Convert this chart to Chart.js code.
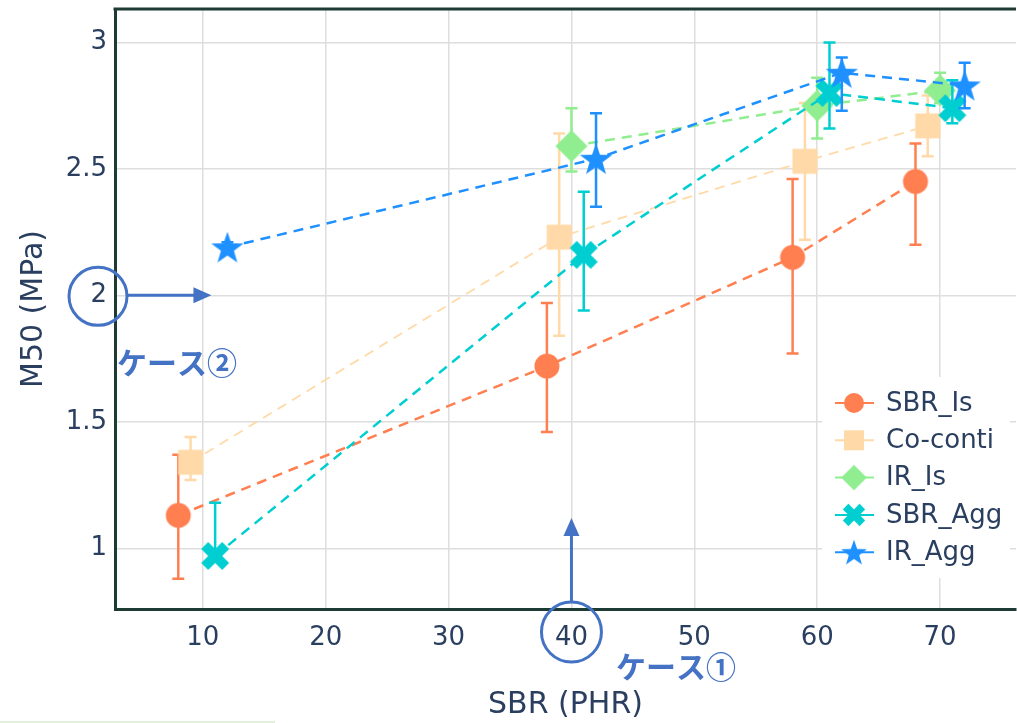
<!DOCTYPE html>
<html>
<head>
<meta charset="utf-8">
<script src="https://cdn.jsdelivr.net/npm/chart.js@4.4.1/dist/chart.umd.min.js"></script>
<style>
  html, body { margin: 0; padding: 0; background: #fff; overflow: hidden; }
  canvas { display: block; }
</style>
</head>
<body>
<canvas id="myChart" width="1017" height="723"></canvas>
<script>
// data
const xTicks = [10, 20, 30, 40, 50, 60, 70];
const yTicks = [1, 1.5, 2, 2.5, 3];

const sbrIsX = [8, 38, 58, 68];
const sbrIsY = [1.13, 1.72, 2.15, 2.45];
const sbrIsHi = [1.37, 1.97, 2.46, 2.60];
const sbrIsLo = [0.88, 1.46, 1.77, 2.20];

const coContiX = [9, 39, 59, 69];
const coContiY = [1.34, 2.23, 2.53, 2.67];
const coContiHi = [1.44, 2.64, 2.76, 2.79];
const coContiLo = [1.27, 1.84, 2.22, 2.55];

const irIsX = [40, 60, 70];
const irIsY = [2.59, 2.75, 2.81];
const irIsHi = [2.74, 2.86, 2.88];
const irIsLo = [2.49, 2.62, 2.76];

const sbrAggX = [11, 41, 61, 71];
const sbrAggY = [0.97, 2.16, 2.80, 2.74];
const sbrAggHi = [1.18, 2.41, 3.0, 2.85];
const sbrAggLo = [0.95, 1.94, 2.66, 2.68];

const irAggX = [12, 42, 62, 72];
const irAggY = [2.19, 2.54, 2.88, 2.83];
const irAggHi = [2.21, 2.72, 2.94, 2.92];
const irAggLo = [2.17, 2.35, 2.73, 2.74];

const textColor = "#2a3f5f";
const frameColor = "#1d3b33";
const noteColor = "#4472C4";

// marker images (plotly-like filled symbols)
function makeMarker(shape, color, scale) {
  const s = scale || 1;
  const c = document.createElement("canvas");
  const size = Math.ceil(40 * s);
  c.width = size; c.height = size;
  const g = c.getContext("2d");
  g.translate(size / 2, size / 2);
  g.scale(s, s);
  g.fillStyle = color;
  g.beginPath();
  if (shape === "circle") {
    g.arc(0, 0, 12.5, 0, Math.PI * 2);
  } else if (shape === "square") {
    g.rect(-12.5, -12.5, 25, 25);
  } else if (shape === "diamond") {
    g.moveTo(0, -16); g.lineTo(16, 0); g.lineTo(0, 16); g.lineTo(-16, 0);
  } else if (shape === "x") {
    const r = 7;
    const pts = [[0, r], [r, 2 * r], [2 * r, r], [r, 0], [2 * r, -r], [r, -2 * r],
      [0, -r], [-r, -2 * r], [-2 * r, -r], [-r, 0], [-2 * r, r], [-r, 2 * r]];
    pts.forEach((p, i) => (i ? g.lineTo(p[0], p[1]) : g.moveTo(p[0], p[1])));
  } else if (shape === "star") {
    for (let i = 0; i < 10; i++) {
      const rad = i % 2 ? 6.8 : 17;
      const a = -Math.PI / 2 + (i * Math.PI) / 5;
      const px = Math.cos(a) * rad, py = Math.sin(a) * rad + 1.5;
      i ? g.lineTo(px, py) : g.moveTo(px, py);
    }
  }
  g.closePath();
  g.fill();
  return c;
}

function series(label, xs, ys, hi, lo, color, shape, width) {
  return {
    label: label,
    data: xs.map((x, i) => ({ x: x, y: ys[i] })),
    errHi: hi,
    errLo: lo,
    shape: shape,
    borderColor: color,
    backgroundColor: color,
    borderWidth: width,
    borderDash: [10, 7],
    showLine: true,
    pointStyle: makeMarker(shape, color),
    // small radius so the layout does not reserve room for the markers
    pointRadius: 1,
    pointHoverRadius: 1,
    pointBorderWidth: 0,
  };
}

const datasets = [
  series("SBR_Is", sbrIsX, sbrIsY, sbrIsHi, sbrIsLo, "#FF7F50", "circle", 2.5),
  series("Co-conti", coContiX, coContiY, coContiHi, coContiLo, "#FFDAA8", "square", 1.8),
  series("IR_Is", irIsX, irIsY, irIsHi, irIsLo, "#90EE90", "diamond", 2.5),
  series("SBR_Agg", sbrAggX, sbrAggY, sbrAggHi, sbrAggLo, "#00CED1", "x", 2.5),
  series("IR_Agg", irAggX, irAggY, irAggHi, irAggLo, "#1E90FF", "star", 2.5),
];
// later traces on top, like plotly
datasets.forEach((d, i) => (d.order = datasets.length - 1 - i));

const errorBars = {
  id: "errorBars",
  beforeDatasetDraw(chart, args) {
    const ds = chart.data.datasets[args.index];
    const xs = chart.scales.x, ys = chart.scales.y;
    const ctx = chart.ctx;
    ctx.save();
    ctx.strokeStyle = ds.borderColor;
    ctx.lineWidth = 2.5;
    ds.data.forEach((p, i) => {
      const px = xs.getPixelForValue(p.x);
      const top = ys.getPixelForValue(ds.errHi[i]);
      const bot = ys.getPixelForValue(ds.errLo[i]);
      ctx.beginPath();
      ctx.moveTo(px, top); ctx.lineTo(px, bot);
      ctx.moveTo(px - 6, top); ctx.lineTo(px + 6, top);
      ctx.moveTo(px - 6, bot); ctx.lineTo(px + 6, bot);
      ctx.stroke();
    });
    ctx.restore();
  },
};

function arrow(ctx, x1, y1, x2, y2) {
  const a = Math.atan2(y2 - y1, x2 - x1);
  ctx.beginPath();
  ctx.moveTo(x1, y1);
  ctx.lineTo(x2 - Math.cos(a) * 14, y2 - Math.sin(a) * 14);
  ctx.stroke();
  ctx.beginPath();
  ctx.moveTo(x2, y2);
  ctx.lineTo(x2 - Math.cos(a) * 18 - Math.sin(a) * 8, y2 - Math.sin(a) * 18 + Math.cos(a) * 8);
  ctx.lineTo(x2 - Math.cos(a) * 18 + Math.sin(a) * 8, y2 - Math.sin(a) * 18 - Math.cos(a) * 8);
  ctx.closePath();
  ctx.fill();
}

const extras = {
  id: "extras",
  afterDraw(chart) {
    const ctx = chart.ctx;
    const area = chart.chartArea;
    const xs = chart.scales.x, ys = chart.scales.y;
    ctx.save();

    // top frame line
    ctx.strokeStyle = frameColor;
    ctx.lineWidth = 3;
    ctx.beginPath();
    ctx.moveTo(area.left - 1.5, area.top);
    ctx.lineTo(area.right, area.top);
    ctx.stroke();

    // legend
    const items = chart.data.datasets;
    ctx.fillStyle = "#fff";
    ctx.fillRect(822, 377, 188, 201);
    items.forEach((d, i) => {
      const y = 403 + i * 37.3;
      ctx.strokeStyle = d.borderColor;
      ctx.lineWidth = 2;
      ctx.beginPath();
      ctx.moveTo(835, y); ctx.lineTo(874, y);
      ctx.stroke();
      const img = makeMarker(d.shape, d.borderColor, 0.8);
      ctx.drawImage(img, 854 - img.width / 2, y - img.height / 2);
      ctx.fillStyle = textColor;
      ctx.font = "26px 'DejaVu Sans'";
      ctx.textAlign = "left";
      ctx.textBaseline = "middle";
      ctx.fillText(d.label, 886, y + 1);
    });

    // annotations
    ctx.strokeStyle = noteColor;
    ctx.fillStyle = noteColor;
    ctx.lineWidth = 3;
    const y2 = ys.getPixelForValue(2);
    ctx.beginPath();
    ctx.arc(98, y2 + 1, 29, 0, Math.PI * 2);
    ctx.stroke();
    arrow(ctx, 127, y2, xs.getPixelForValue(10.7), y2);

    const x40 = xs.getPixelForValue(40);
    ctx.beginPath();
    ctx.arc(x40, 632, 30, 0, Math.PI * 2);
    ctx.stroke();
    arrow(ctx, x40, 602, x40, ys.getPixelForValue(1.12));

    ctx.font = "bold 30px 'Noto Sans CJK JP'";
    ctx.textAlign = "left";
    ctx.textBaseline = "middle";
    ctx.fillText("ケース②", 117, 363);
    ctx.fillText("ケース①", 616, 667);

    // faint strip at the bottom edge
    ctx.strokeStyle = "#e3f1dc";
    ctx.lineWidth = 2;
    ctx.beginPath();
    ctx.moveTo(0, 722); ctx.lineTo(275, 722);
    ctx.stroke();
    ctx.restore();
  },
};

function fixTicks(values) {
  return (scale) => {
    scale.ticks = values.map((v) => ({ value: v }));
  };
}

const ctx = document.getElementById("myChart").getContext("2d");
const myChart = new Chart(ctx, {
  type: "scatter",
  data: { datasets: datasets },
  plugins: [errorBars, extras],
  options: {
    responsive: false,
    animation: false,
    layout: { padding: { top: 9, left: 0, right: 0, bottom: 0 } },
    plugins: {
      legend: { display: false },
      tooltip: { enabled: false },
    },
    scales: {
      x: {
        type: "linear",
        min: 2.85,
        max: 76.18,
        afterBuildTicks: fixTicks(xTicks),
        afterFit: (scale) => {
          scale.height = 114;
          scale.paddingLeft = 0; scale.paddingRight = 0;
        },
        grid: { color: "#dedede", lineWidth: 1.5, drawTicks: false },
        border: { display: true, color: frameColor, width: 3 },
        ticks: {
          color: textColor,
          font: { family: "'DejaVu Sans'", size: 26 },
          padding: 14,
          maxRotation: 0,
          autoSkip: false,
          callback: (v) => String(v),
        },
        title: {
          display: true,
          text: "SBR (PHR)",
          color: textColor,
          font: { family: "'DejaVu Sans'", size: 30 },
          padding: { top: 0, bottom: 0 },
        },
      },
      y: {
        type: "linear",
        min: 0.76,
        max: 3.132,
        afterBuildTicks: fixTicks(yTicks),
        afterFit: (scale) => {
          scale.width = 115;
          scale.paddingTop = 0; scale.paddingBottom = 0;
        },
        grid: { color: "#dedede", lineWidth: 1.5, drawTicks: false },
        border: { display: true, color: frameColor, width: 3 },
        ticks: {
          color: textColor,
          font: { family: "'DejaVu Sans'", size: 26 },
          padding: 8,
          autoSkip: false,
          callback: (v) => String(v),
        },
        title: {
          display: true,
          text: "M50 (MPa)",
          color: textColor,
          font: { family: "'DejaVu Sans'", size: 30 },
          padding: { top: 16, bottom: 0 },
        },
      },
    },
  },
});
</script>
</body>
</html>
